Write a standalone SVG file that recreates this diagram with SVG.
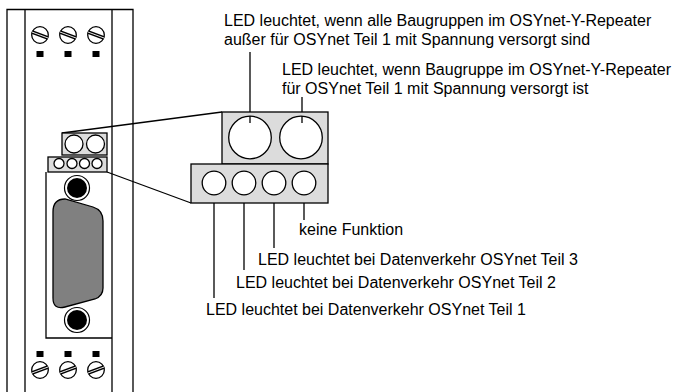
<svg xmlns="http://www.w3.org/2000/svg" width="674" height="392" viewBox="0 0 674 392">
<style>
.ln{fill:none;stroke:#000;stroke-width:1.3}
.box{fill:#dcdcdc;stroke:#000;stroke-width:1.3}
.led{fill:#fff;stroke:#000;stroke-width:1.3}
.t{font-family:"Liberation Sans",Arial,sans-serif;font-size:16px;fill:#000}
.sq{fill:#000}
.slot{stroke:#000;stroke-width:3.6}
.slotin{stroke:#fff;stroke-width:0.9}
</style>
<defs>
<g id="screwA">
<circle r="8.3" class="led"/>
<line x1="-8" y1="-3" x2="8" y2="3" class="slot"/>
<line x1="-8" y1="-3" x2="8" y2="3" class="slotin"/>
</g>
<g id="screwB">
<circle r="8.3" class="led"/>
<line x1="-8" y1="3" x2="8" y2="-3" class="slot"/>
<line x1="-8" y1="3" x2="8" y2="-3" class="slotin"/>
</g>
<g id="jack">
<circle r="12.5" fill="#fff" stroke="#000" stroke-width="1.2"/>
<circle r="10" fill="#000"/>
</g>
</defs>
<rect width="674" height="392" fill="#fff"/>
<g id="device">
<path class="ln" d="M7,400 V9.5 H133 V400 M25,9.5 V400 M112,9.5 V400"/>
<path class="ln" d="M46,172 V338 H112"/>
<path d="M53,212 Q53,199 65,199 L93,207 Q103,210 103,221 L103,288 Q103,296 95,299 L65,307 Q53,310 53,298 Z" fill="#808080" stroke="#000" stroke-width="1.3"/>
<use href="#jack" x="77" y="188"/>
<use href="#jack" x="77" y="320"/>
<use href="#screwA" x="40" y="35"/>
<use href="#screwA" x="68" y="35"/>
<use href="#screwA" x="96" y="35"/>
<rect class="sq" x="36.5" y="51" width="7" height="6"/>
<rect class="sq" x="64.5" y="51" width="7" height="6"/>
<rect class="sq" x="92.5" y="51" width="7" height="6"/>
<rect class="sq" x="36.5" y="351" width="7" height="6"/>
<rect class="sq" x="64.5" y="351" width="7" height="6"/>
<rect class="sq" x="92.5" y="351" width="7" height="6"/>
<use href="#screwB" x="40" y="370"/>
<use href="#screwB" x="68" y="370"/>
<use href="#screwB" x="96" y="370"/>
</g>
<g id="connectors">
<line class="ln" x1="62" y1="133" x2="222" y2="112"/>
<line class="ln" x1="107" y1="172" x2="191" y2="203"/>
<line class="ln" x1="250" y1="52" x2="250" y2="123"/>
<line class="ln" x1="302" y1="97" x2="302" y2="123"/>
<line class="ln" x1="214" y1="195" x2="214" y2="298"/>
<line class="ln" x1="244" y1="195" x2="244" y2="270"/>
<line class="ln" x1="274" y1="195" x2="274" y2="248"/>
<line class="ln" x1="304" y1="195" x2="304" y2="220"/>
</g>
<g id="small-led-pair">
<rect class="box" x="62" y="133" width="45" height="22"/>
<circle class="led" cx="74" cy="144" r="9"/>
<circle class="led" cx="95.5" cy="144" r="9"/>
</g>
<g id="small-led-strip">
<rect class="box" x="48" y="157" width="59" height="15"/>
<circle class="led" cx="59" cy="163.5" r="5"/>
<circle class="led" cx="72" cy="163.5" r="5"/>
<circle class="led" cx="84.5" cy="163.5" r="5"/>
<circle class="led" cx="97" cy="163.5" r="5"/>
</g>
<g id="big-led-pair">
<rect class="box" x="222" y="112" width="106" height="52"/>
<circle class="led" cx="250" cy="137.5" r="21.3"/>
<circle class="led" cx="301" cy="137.5" r="21.3"/>
<line class="ln" x1="250" y1="116" x2="250" y2="123"/>
<line class="ln" x1="302" y1="116" x2="302" y2="123"/>
</g>
<g id="big-led-strip">
<rect class="box" x="191" y="164" width="137" height="39"/>
<circle class="led" cx="214" cy="183" r="11.8"/>
<circle class="led" cx="244" cy="183" r="11.8"/>
<circle class="led" cx="274" cy="183" r="11.8"/>
<circle class="led" cx="304" cy="183" r="11.8"/>
</g>
<g id="labels">
<text class="t" x="224" y="26">LED leuchtet, wenn alle Baugruppen im OSYnet-Y-Repeater</text>
<text class="t" x="224" y="45">außer für OSYnet Teil 1 mit Spannung versorgt sind</text>
<text class="t" x="282" y="75">LED leuchtet, wenn Baugruppe im OSYnet-Y-Repeater</text>
<text class="t" x="282" y="94">für OSYnet Teil 1 mit Spannung versorgt ist</text>
<text class="t" x="299" y="235">keine Funktion</text>
<text class="t" x="258" y="265">LED leuchtet bei Datenverkehr OSYnet Teil 3</text>
<text class="t" x="236" y="288">LED leuchtet bei Datenverkehr OSYnet Teil 2</text>
<text class="t" x="206" y="315">LED leuchtet bei Datenverkehr OSYnet Teil 1</text>
</g>
</svg>
